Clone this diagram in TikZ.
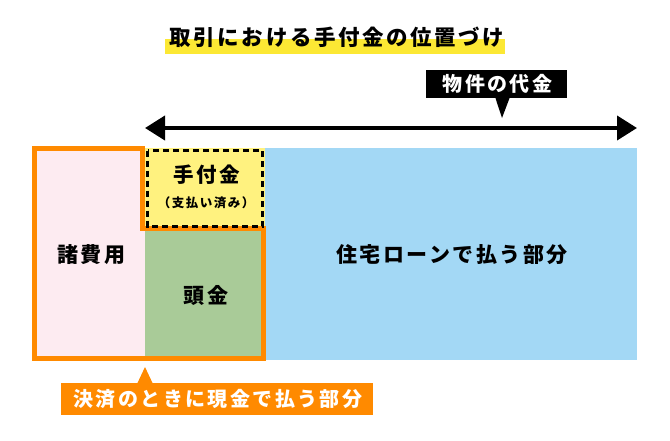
\documentclass[tikz,border=0pt]{standalone}
\usepackage{fontspec}
\usetikzlibrary{arrows.meta,%
                positioning}
\newfontfamily\jp[LetterSpace=12]{Noto Sans CJK JP}
\definecolor{hiyellow}{HTML}{FCE834}
\definecolor{pinkfill}{HTML}{FDEBF1}
\definecolor{paidfill}{HTML}{FFF27F}
\definecolor{downfill}{HTML}{A9CB98}
\definecolor{loanfill}{HTML}{A3D8F5}
\definecolor{cashorange}{HTML}{FF8A00}

\tikzset{area/.style={anchor=north west,inner sep=0pt,font=\jp\bfseries\fontsize{21}{24}\selectfont},
         tag/.style={inner sep=0pt,text=white,font=\jp\bfseries\fontsize{20}{22}\selectfont}}

\begin{document}
\begin{tikzpicture}[x=1pt,y=-1pt]
\useasboundingbox (0,0) rectangle (670,440);

% title
\fill[hiyellow] (165,39) rectangle (505,54);
\node[font=\jp\bfseries\fontsize{21.5}{24}\selectfont] (title) at (337,37) {取引における手付金の位置づけ};

% areas
\node[area,fill=pinkfill,minimum width=110,minimum height=212] (shohiyo) at (35,148) {\hspace{2pt}諸費用};
\node[area,fill=downfill,minimum width=120,minimum height=130] (atamakin) at (145,230) {\hspace{2pt}頭金};
\node[area,fill=loanfill,minimum width=372,minimum height=212] (loan) at (265,148) {\hspace{2pt}住宅ローンで払う部分};
\node[area,fill=paidfill,minimum width=120,minimum height=82] (tetsuke) at (145,148) {};
\node[font=\jp\bfseries\fontsize{20.5}{22}\selectfont] (tetsukeA) at (207,175) {手付金};
\node[font=\jp\bfseries\fontsize{12.5}{14}\selectfont] (tetsukeB) at (206,203) {（支払い済み）};

\draw[cashorange,line width=5pt,line join=miter]
  (34.5,148.5) -- (142.5,148.5) -- (142.5,228.5) -- (263.5,228.5) -- (263.5,358) -- (34.5,358) -- cycle;
\draw[black,line width=3pt,dash pattern=on 6pt off 4pt]
  (147.5,150.5) rectangle (262.5,226);

% price arrow
\coordinate (pstart) at (145,128);
\coordinate (pend) at (637,128);
\draw[line width=4pt,{Triangle[length=20pt,width=24pt]}-{Triangle[length=20pt,width=24pt]}] (pstart) -- (pend);

\node[tag,fill=black,minimum width=141,minimum height=28] (daikin) at (496.5,84) {\hspace{2pt}物件の代金};
\fill (daikin.south) ++(-1,0) -- ++(14,0) -- (502,118) -- cycle;

% cash label
\node[tag,fill=cashorange,minimum width=312,minimum height=32] (genkin) at (217,399) {\hspace{2pt}決済のときに現金で払う部分};
\fill[cashorange] (137,384) -- (145,367) -- (153,384) -- cycle;
\end{tikzpicture}
\end{document}
